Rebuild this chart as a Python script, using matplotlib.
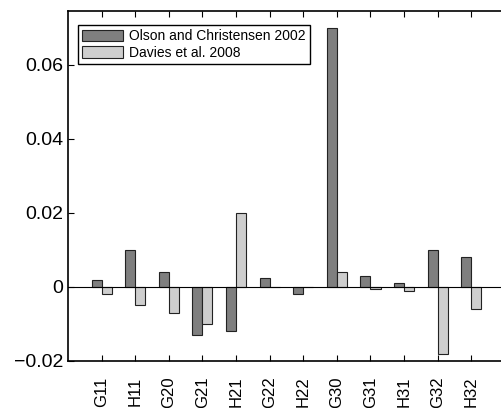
import numpy as np
import matplotlib
matplotlib.use('Agg')
import matplotlib.pyplot as plt

plt.rcParams['font.family'] = ['Liberation Sans', 'DejaVu Sans']

# Coefficient names and values
coeffs = ['G11', 'H11', 'G20', 'G21', 'H21', 'G22', 'H22', 'G30', 'G31', 'H31', 'G32', 'H32']
olson = [0.002, 0.010, 0.004, -0.013, -0.012, 0.0025, -0.002, 0.070, 0.003, 0.001, 0.010, 0.008]
davies = [-0.002, -0.005, -0.007, -0.010, 0.020, -0.0001, -0.0001, 0.004, -0.0005, -0.001, -0.018, -0.006]
series_names = ['Olson and Christensen 2002', 'Davies et al. 2008']

fig = plt.figure(figsize=(5.01, 4.08), dpi=100)
ax = fig.add_axes([0.1357, 0.1152, 0.872, 0.858])

x = np.arange(1, len(coeffs) + 1)
w = 0.3
ax.bar(x - w / 2, olson, w, color='#7f7f7f', edgecolor='#222222', linewidth=0.8, label=series_names[0])
ax.bar(x + w / 2, davies, w, color='#cecece', edgecolor='#222222', linewidth=0.8, label=series_names[1])
ax.axhline(0, color='black', linewidth=0.8)

ax.set_xlim(0, 13)
ax.set_ylim(-0.02, 0.0746)
ax.set_xticks(x)
ax.set_xticklabels(coeffs, rotation=90, fontsize=12, va='top')
ax.set_yticks([-0.02, 0, 0.02, 0.04, 0.06])
ax.set_yticklabels(['\u22120.02', '0', '0.02', '0.04', '0.06'], fontsize=14)
ax.tick_params(direction='in', top=True, right=False, length=4, width=0.8)
ax.tick_params(axis='x', pad=11)
for s in ax.spines.values():
    s.set_linewidth(1.2)
ax.spines['right'].set_visible(False)

ax.legend(loc='upper left', bbox_to_anchor=(0.022, 0.96), fontsize=10, frameon=True,
          fancybox=False, edgecolor='black', framealpha=1, handlelength=3.0,
          handleheight=0.9, borderpad=0.3, labelspacing=0.2, handletextpad=0.4,
          borderaxespad=0)

fig.savefig('out.png', dpi=100)
